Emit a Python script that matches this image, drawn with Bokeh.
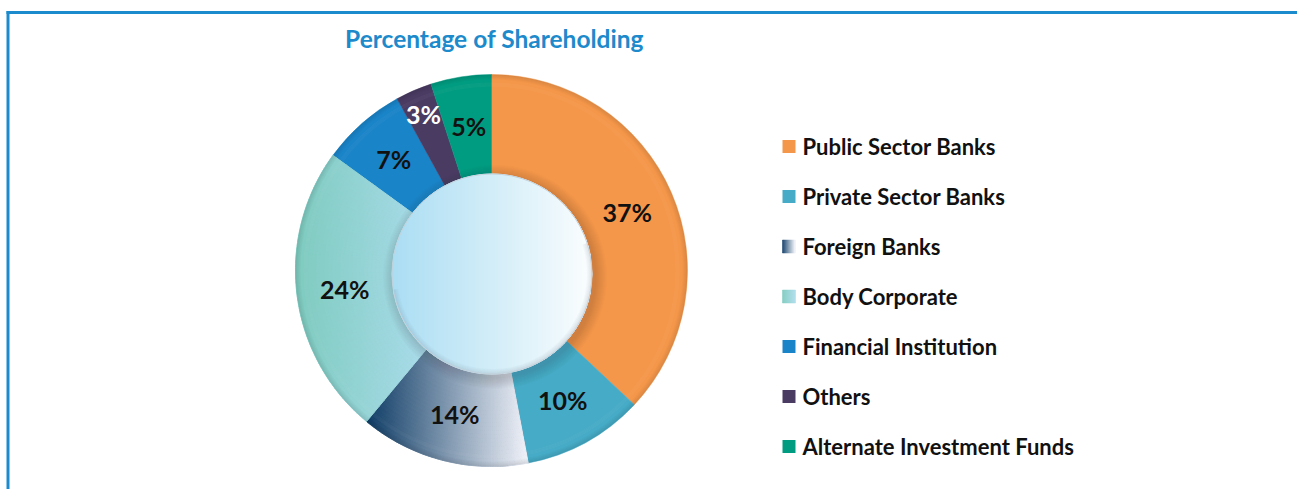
import numpy as np
from bokeh.plotting import figure
from bokeh.models import ColumnDataSource
from bokeh.embed import file_html
from bokeh.resources import INLINE
from bokeh.core.properties import value

# ---------------- data ----------------
title = "Percentage of Shareholding"
categories = ["Public Sector Banks", "Private Sector Banks", "Foreign Banks",
              "Body Corporate", "Financial Institution", "Others",
              "Alternate Investment Funds"]
shares = [37, 10, 14, 24, 7, 3, 5]
labels = ["37%", "10%", "14%", "24%", "7%", "3%", "5%"]

# ---------------- style ----------------
colors = ["#F4974A", "#46ABC6", "#6F8CA6", "#95D3D6", "#1A84C8", "#4A3B63", "#009C81"]
gradients = {2: ("#123F68", "#EFF1F8"), 3: ("#7FCBC0", "#AADCEA")}
label_colors = ["#111111"] * 5 + ["#FFFFFF", "#111111"]
label_radius = [148, 148, 148, 148, 148, 171, 146]
FONT = "Lato"

W, H = 1297, 489


def X(px):
    return px


def Y(py):
    return H - py


def hex2rgb(h):
    h = h.lstrip("#")
    return np.array([int(h[i:i + 2], 16) for i in (0, 2, 4)], dtype=float)


def lerp(c0, c1, t):
    a, b = hex2rgb(c0), hex2rgb(c1)
    c = a + (b - a) * t
    return "#%02x%02x%02x" % tuple(int(round(v)) for v in c)


def lerp3(c0, c1, c2, t):
    return lerp(c0, c1, t * 2) if t < 0.5 else lerp(c1, c2, (t - 0.5) * 2)


p = figure(width=W, height=H, x_range=(0, W), y_range=(0, H),
           output_backend="svg", toolbar_location=None, min_border=0,
           x_axis_location=None, y_axis_location=None)
p.grid.visible = False
p.outline_line_color = None
p.background_fill_color = "white"
p.border_fill_color = "white"

# ---------------- frame ----------------
FRAME = "#1B8BCD"
p.segment(x0=[X(6)], y0=[Y(12)], x1=[W], y1=[Y(12)], line_color=FRAME, line_width=3)
p.segment(x0=[X(7.5)], y0=[Y(10.5)], x1=[X(7.5)], y1=[0], line_color=FRAME, line_width=3)

# ---------------- donut ----------------
cx, cy = X(491), Y(270)
R_OUT, R_IN = 196, 92
vals = np.array(shares, dtype=float)
cum = np.concatenate([[0], np.cumsum(vals)]) / vals.sum()
start = np.pi / 2 - cum[:-1] * 2 * np.pi
end = np.pi / 2 - cum[1:] * 2 * np.pi

src = ColumnDataSource(dict(start=start, end=end, color=colors, name=categories))
p.annular_wedge(x=cx, y=cy, inner_radius=R_IN, outer_radius=R_OUT,
                start_angle="start", end_angle="end", direction="clock",
                fill_color="color", line_color="color", line_width=0.5, source=src)

# horizontal gradients inside selected slices (small cells)
for idx, (c0, c1) in gradients.items():
    a_hi, a_lo = start[idx], end[idx]
    na, nr = 70, 26
    aa = np.linspace(a_lo, a_hi, na + 1)
    rr = np.linspace(R_IN, R_OUT, nr + 1)
    cells = []
    for i in range(na):
        for j in range(nr):
            am = 0.5 * (aa[i] + aa[i + 1])
            rm = 0.5 * (rr[j] + rr[j + 1])
            cells.append((aa[i], aa[i + 1], rr[j], rr[j + 1], cx + rm * np.cos(am)))
    xs_vis = [c[4] for c in cells if c[2] >= 100]
    xmin, xmax = min(xs_vis), max(xs_vis)
    cols = [lerp(c0, c1, float(np.clip((c[4] - xmin) / (xmax - xmin), 0, 1))) for c in cells]
    p.annular_wedge(x=cx, y=cy,
                    inner_radius=[c[2] for c in cells], outer_radius=[c[3] for c in cells],
                    start_angle=[c[0] for c in cells], end_angle=[c[1] for c in cells],
                    fill_color=cols, line_color=cols, line_width=1)

# rim shading (bevel)
for k in range(5):
    p.annulus(x=cx, y=cy, inner_radius=R_OUT - k - 1, outer_radius=R_OUT - k,
              fill_color="black", fill_alpha=0.02 * (5 - k), line_color=None)
for k in range(4):
    p.annulus(x=cx, y=cy, inner_radius=R_OUT - 8 - k - 1, outer_radius=R_OUT - 8 - k,
              fill_color="white", fill_alpha=0.035, line_color=None)

# shadow around inner circle
icx, icy, ir = X(491.5), Y(273.5), 100
for k in range(12):
    p.circle(x=icx + 3, y=icy - 3, radius=ir + 12 - k, fill_color="#3a3020",
             fill_alpha=0.015, line_color=None)

# inner circle with horizontal gradient (vertical strips)
n_strip = 100
edges = np.linspace(-ir, ir, n_strip + 1)
sxs, sys, scols = [], [], []
for i in range(n_strip):
    a, b = edges[i], edges[i + 1]
    ha = np.sqrt(max(ir ** 2 - a ** 2, 0))
    hb = np.sqrt(max(ir ** 2 - b ** 2, 0))
    sxs.append([icx + a, icx + b, icx + b, icx + a])
    sys.append([icy - ha, icy - hb, icy + hb, icy + ha])
    t = (0.5 * (a + b) + ir) / (2 * ir)
    scols.append(lerp3("#AADDF3", "#D2EDF8", "#FBFDFE", t))
p.patches(xs=sxs, ys=sys, fill_color=scols, line_color=scols, line_width=1)

# bevel of inner circle
for k in range(5):
    p.annular_wedge(x=icx, y=icy, inner_radius=ir - k - 1, outer_radius=ir - k,
                    start_angle=-np.pi * 0.95, end_angle=np.pi * 0.1,
                    fill_color="#7f8c99", fill_alpha=0.045 * (5 - k), line_color=None)
p.circle(x=icx, y=icy, radius=ir, fill_color=None, line_color="#c3d2dc", line_width=1)

# ---------------- slice labels ----------------
mid = 0.5 * (start + end)
lx = [cx + r * np.cos(m) for r, m in zip(label_radius, mid)]
ly = [cy + r * np.sin(m) for r, m in zip(label_radius, mid)]
p.text(x=lx, y=ly, text=labels, text_color=label_colors,
       text_font=value(FONT), text_font_style="bold", text_font_size="25px",
       text_align="center", text_baseline="middle")

# ---------------- title ----------------
p.text(x=[X(494)], y=[Y(38)], text=[title], text_color="#1C8ACB",
       text_font=value(FONT), text_font_style="bold", text_font_size="24.5px",
       text_align="center", text_baseline="middle")

# ---------------- legend ----------------
row_y = [146 + 50 * i for i in range(len(categories))]
sq_x0, sq = 782, 13
for i, (cat, col) in enumerate(zip(categories, colors)):
    yc = Y(row_y[i])
    if i in gradients:
        c0, c1 = gradients[i]
        n = 13
        lefts = [X(sq_x0) + k * sq / n for k in range(n)]
        rights = [l + sq / n for l in lefts]
        cs = [lerp(c0, c1, k / (n - 1)) for k in range(n)]
        p.quad(left=lefts, right=rights, top=yc + sq / 2, bottom=yc - sq / 2,
               fill_color=cs, line_color=cs, line_width=0.5)
    else:
        p.rect(x=[X(sq_x0) + sq / 2], y=[yc], width=sq, height=sq,
               fill_color=col, line_color=None)
p.text(x=[X(802)] * len(categories), y=[Y(r) for r in row_y], text=categories,
       text_color="#111111", text_font=value(FONT), text_font_style="bold",
       text_font_size="22px", text_align="left", text_baseline="middle")

open("out.html", "w").write(file_html(p, INLINE))
